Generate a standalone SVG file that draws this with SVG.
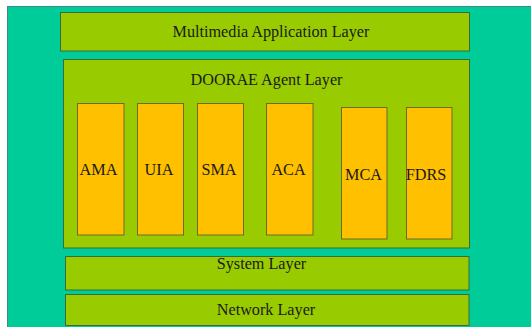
<svg xmlns="http://www.w3.org/2000/svg" width="531" height="327" viewBox="0 0 531 327">
<style>
.layer{fill:#99CC00;stroke:#3A6B3A;stroke-width:1}
.agent{fill:#FFC000;stroke:#6B6B2A;stroke-width:1}
text{fill:#1a1a1a;text-anchor:middle;font-size:16.2px;font-family:"Liberation Serif","Times New Roman",serif}
</style>
<rect x="0" y="0" width="531" height="327" fill="#ffffff"/>
<rect x="7.5" y="6.5" width="530" height="330" fill="#00CC99" stroke="#3E8A8A" stroke-width="1"/>
<g id="multimedia"><rect class="layer" x="60.5" y="12.5" width="409" height="38.5"/><text x="271" y="37">Multimedia Application Layer</text></g>
<g id="doorae"><rect class="layer" x="63.5" y="59.5" width="406" height="188.5"/><text x="266.5" y="85">DOORAE Agent Layer</text></g>
<g id="ama"><rect class="agent" x="77.5" y="103.5" width="46.5" height="131.5"/><text x="98.5" y="175">AMA</text></g>
<g id="uia"><rect class="agent" x="137.5" y="103.5" width="46" height="131.5"/><text x="159" y="175">UIA</text></g>
<g id="sma"><rect class="agent" x="197.5" y="103.5" width="46" height="131.5"/><text x="219" y="175">SMA</text></g>
<g id="aca"><rect class="agent" x="266.5" y="103.5" width="46.5" height="131.5"/><text x="288.5" y="175">ACA</text></g>
<g id="mca"><rect class="agent" x="341.5" y="107.5" width="45.5" height="131.5"/><text x="363.5" y="179.5">MCA</text></g>
<g id="fdrs"><rect class="agent" x="406.5" y="107.5" width="45.5" height="131.5"/><text x="426" y="179.5">FDRS</text></g>
<g id="system"><rect class="layer" x="65.5" y="256.5" width="403.5" height="33.5"/><text x="261.5" y="269">System Layer</text></g>
<g id="network"><rect class="layer" x="65.5" y="294.5" width="403.5" height="31"/><text x="266" y="315">Network Layer</text></g>
<g id="connectors"></g>
</svg>
